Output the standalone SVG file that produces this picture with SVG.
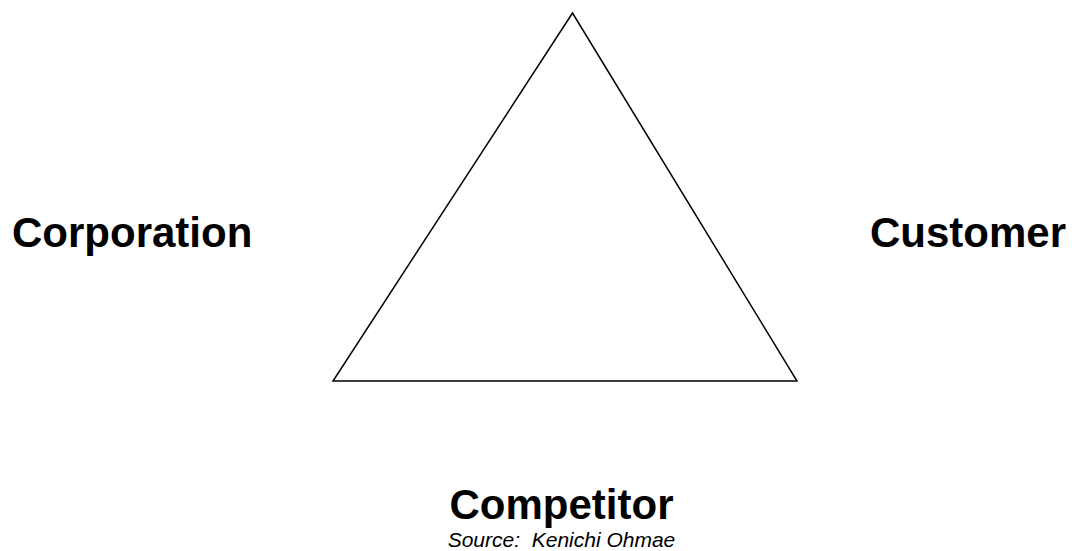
<svg xmlns="http://www.w3.org/2000/svg" width="1072" height="551" viewBox="0 0 1072 551">
<style>
.lbl{font-family:"Liberation Sans",Arial,sans-serif;font-weight:bold;font-size:42px;fill:#000}
.src{font-family:"Liberation Sans",Arial,sans-serif;font-style:italic;font-size:21px;fill:#000}
</style>
<rect width="1072" height="551" fill="#fff"/>
<g id="connectors">
<polygon points="572.5,13 333,381 797,381" fill="#fff" stroke="#000" stroke-width="1.5" stroke-linejoin="miter"/>
</g>
<g id="corporation"><text class="lbl" x="12" y="247">Corporation</text></g>
<g id="customer"><text class="lbl" x="870" y="247">Customer</text></g>
<g id="competitor"><text class="lbl" x="561.5" y="519" text-anchor="middle">Competitor</text></g>
<g id="source"><text class="src" x="561.5" y="547" text-anchor="middle" xml:space="preserve">Source:  Kenichi Ohmae</text></g>
</svg>
